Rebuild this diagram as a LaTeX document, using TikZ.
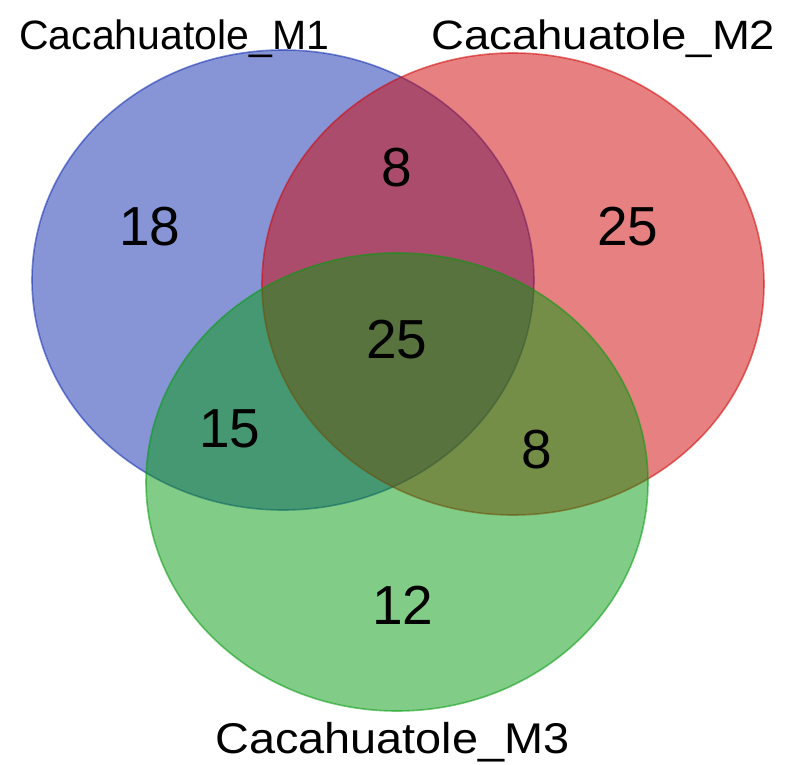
\documentclass[tikz,border=0pt]{standalone}
\usepackage{fontspec}
\setmainfont{Liberation Sans}
\definecolor{setA}{RGB}{17,45,175}
\definecolor{setB}{RGB}{209,5,5}
\definecolor{setC}{RGB}{5,155,15}
\tikzset{
  setshape/.style={fill=#1, fill opacity=0.5, draw=#1, draw opacity=0.55, line width=1.6pt},
  count/.style={inner sep=0pt, font=\fontsize{55}{60}\selectfont},
  setlabel/.style={inner sep=0pt, anchor=base west, font=\fontsize{41}{48}\selectfont}
}
\begin{document}
\begin{tikzpicture}[x=1pt, y=-1pt]
  \useasboundingbox[fill=white] (0,0) rectangle (790,764);

  % the three sets
  \coordinate (cA) at (283,280);
  \coordinate (cB) at (513,284);
  \coordinate (cC) at (397,482);
  \path[setshape=setA] (cA) ellipse [x radius=251pt, y radius=230pt];
  \path[setshape=setB] (cB) ellipse [x radius=251pt, y radius=231pt];
  \path[setshape=setC] (cC) ellipse [x radius=251pt, y radius=229pt];

  % region counts
  \node[count] (nA)   at (150,227) {18};
  \node[count] (nAB)  at (397,168) {8};
  \node[count] (nB)   at (628,227) {25};
  \node[count] (nABC) at (397,340) {25};
  \node[count] (nAC)  at (230,429) {15};
  \node[count] (nBC)  at (537,450) {8};
  \node[count] (nC)   at (403,605) {12};

  % set names
  \node[setlabel] (lA) at (19,49) {Cacahuatole\_M1};
  \node[setlabel] (lB) at (431,49) {\scalebox{1.11}[1]{Cacahuatole\_M2}};
  \node[setlabel, font=\fontsize{43}{50}\selectfont] (lC) at (215,753) {\scalebox{1.09}[1]{Cacahuatole\_M3}};
\end{tikzpicture}
\end{document}
